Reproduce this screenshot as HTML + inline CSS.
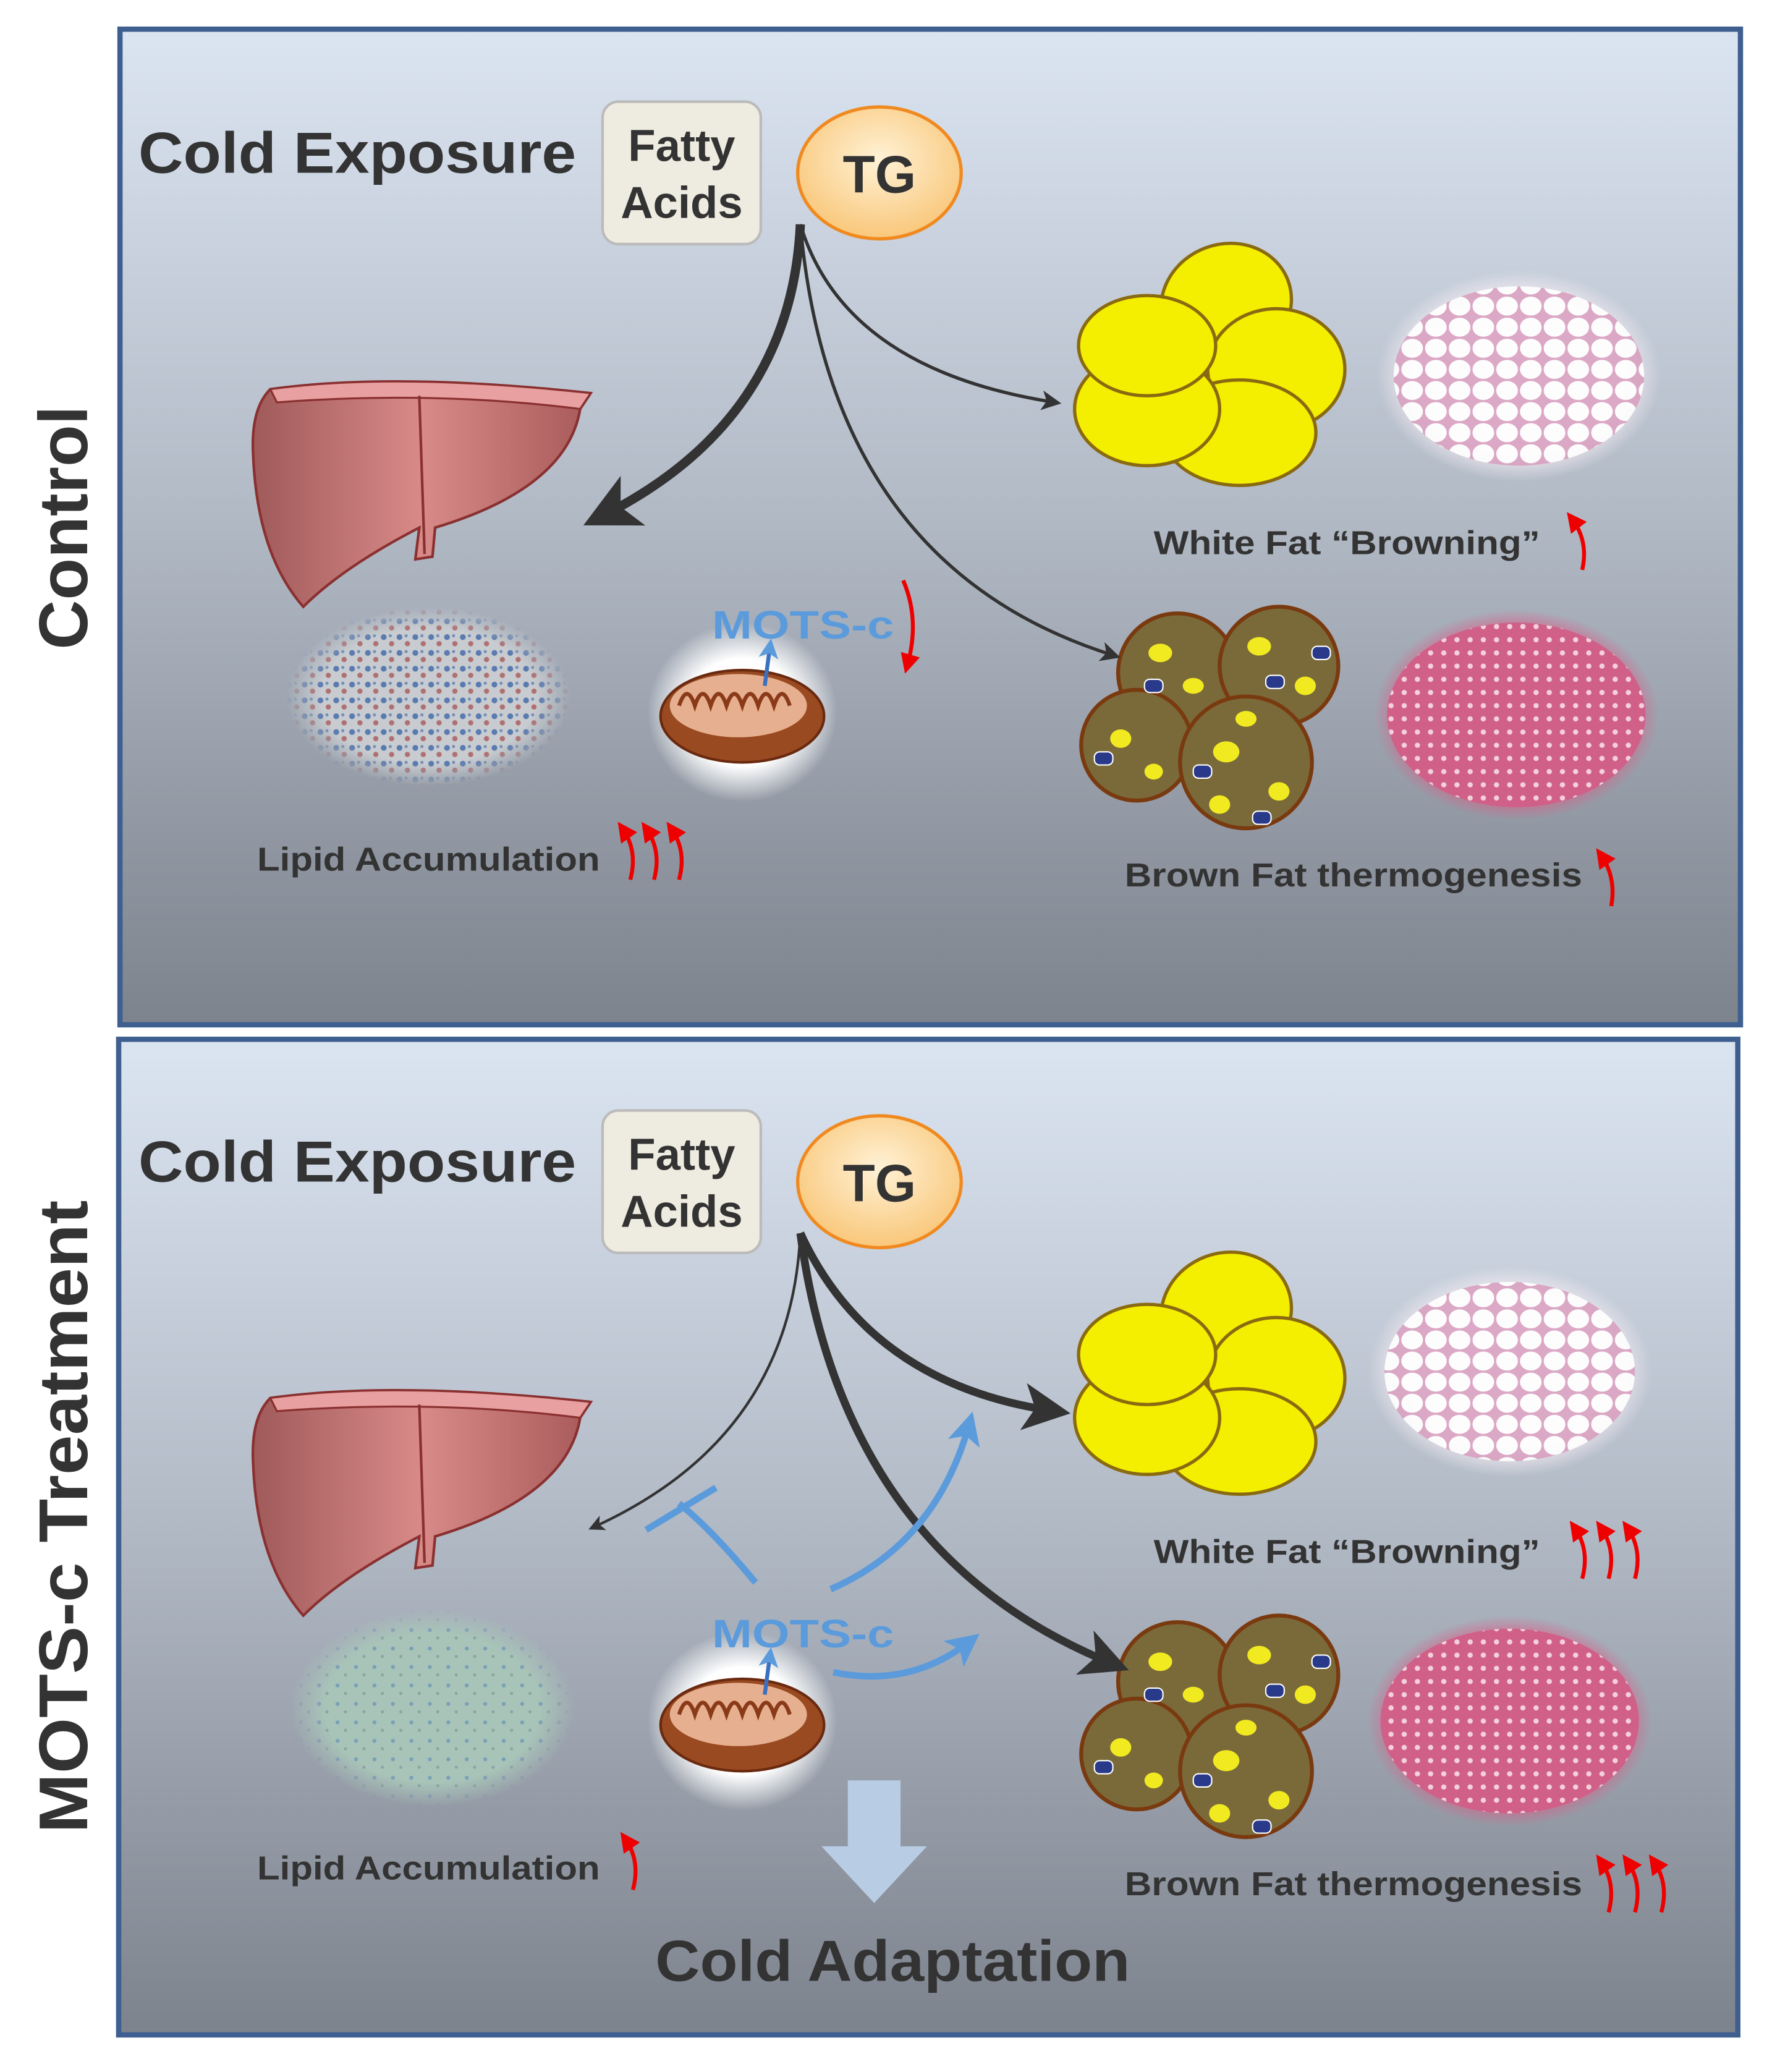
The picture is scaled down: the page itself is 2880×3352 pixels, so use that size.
<!DOCTYPE html>
<html><head><meta charset="utf-8"><style>html,body{margin:0;padding:0;background:#fff}svg{display:block}</style></head><body>
<svg width="2880" height="3352" viewBox="0 0 1350 1571" xmlns="http://www.w3.org/2000/svg" font-family="Liberation Sans, sans-serif">
<defs>
<linearGradient id="bg" x1="0" y1="0" x2="0" y2="1"><stop offset="0" stop-color="#dbe5f1"/><stop offset="0.5" stop-color="#b0b8c4"/><stop offset="1" stop-color="#7d838d"/></linearGradient>
<radialGradient id="tg" cx="0.5" cy="0.4" r="0.6"><stop offset="0" stop-color="#fff2d6"/><stop offset="1" stop-color="#f9c77a"/></radialGradient>
<linearGradient id="liv" x1="0" y1="0" x2="1" y2="0"><stop offset="0" stop-color="#a05a5a"/><stop offset="0.5" stop-color="#d88a88"/><stop offset="1" stop-color="#a85a5a"/></linearGradient>
<radialGradient id="wf" cx="0.5" cy="0.5" r="0.5"><stop offset="0.7" stop-color="#f8eef4"/><stop offset="1" stop-color="#f8eef4" stop-opacity="0"/></radialGradient>
<radialGradient id="bf" cx="0.5" cy="0.5" r="0.5"><stop offset="0.75" stop-color="#d8608a"/><stop offset="1" stop-color="#d8608a" stop-opacity="0"/></radialGradient>
<radialGradient id="mw" cx="0.5" cy="0.5" r="0.5"><stop offset="0.6" stop-color="#fff"/><stop offset="1" stop-color="#fff" stop-opacity="0"/></radialGradient>
<radialGradient id="fade" cx="0.5" cy="0.5" r="0.5"><stop offset="0.75" stop-color="#fff"/><stop offset="1" stop-color="#000"/></radialGradient>
<mask id="fm" maskContentUnits="objectBoundingBox"><rect width="1" height="1" fill="url(#fade)"/></mask>
<pattern id="cells" width="18" height="16" patternUnits="userSpaceOnUse"><rect width="18" height="16" fill="#d8a0c0"/><ellipse cx="9" cy="8" rx="8.2" ry="7.2" fill="#fff"/></pattern>
<pattern id="bcells" width="10" height="10" patternUnits="userSpaceOnUse"><rect width="10" height="10" fill="#d06088"/><circle cx="5" cy="5" r="2" fill="#f4d0dc"/></pattern>
<pattern id="lp1" width="12" height="12" patternUnits="userSpaceOnUse"><rect width="12" height="12" fill="#c8ccd0"/><circle cx="3" cy="3" r="2.2" fill="#5a7ab0"/><circle cx="9" cy="8" r="2" fill="#b07070"/><circle cx="8" cy="2" r="1.2" fill="#7090b8"/></pattern>
<pattern id="lp2" width="14" height="14" patternUnits="userSpaceOnUse"><rect width="14" height="14" fill="#a8c4b8"/><circle cx="4" cy="4" r="1.5" fill="#7aa0b8"/><circle cx="10" cy="10" r="1.2" fill="#8aa4a0"/></pattern>
<marker id="ah" markerWidth="6" markerHeight="6" refX="4" refY="3" orient="auto"><path d="M0,0 L6,3 L0,6 L1.5,3z" fill="#333"/></marker>
<marker id="ahb" markerWidth="5" markerHeight="5" refX="3" refY="2.5" orient="auto"><path d="M0,0 L5,2.5 L0,5 L1.2,2.5z" fill="#5b9bdc"/></marker>
<marker id="ahr" markerWidth="5" markerHeight="5" refX="3" refY="2.5" orient="auto"><path d="M0,0 L5,2.5 L0,5z" fill="#e00"/></marker>
<g id="common">
<text x="105" y="131" font-size="44" font-weight="bold" fill="#333" textLength="332" lengthAdjust="spacingAndGlyphs">Cold Exposure</text>
<rect x="457" y="77" width="120" height="108" rx="12" fill="#eeebe0" stroke="#bbb" stroke-width="2"/>
<text x="517" y="122" font-size="34" font-weight="bold" fill="#333" text-anchor="middle">Fatty</text>
<text x="517" y="165" font-size="34" font-weight="bold" fill="#333" text-anchor="middle">Acids</text>
<ellipse cx="667" cy="131" rx="62" ry="50" fill="url(#tg)" stroke="#f08a20" stroke-width="2.5"/>
<text x="667" y="146" font-size="40" font-weight="bold" fill="#333" text-anchor="middle">TG</text>
<path d="M205,295 Q300,282 448,298 L440,310 Q430,370 330,400 L328,422 L315,424 L318,400 Q260,430 230,460 Q195,420 192,345 Q190,310 205,295z" fill="url(#liv)" stroke="#8a3030" stroke-width="2"/>
<path d="M205,295 Q300,282 448,298 L440,310 Q330,296 210,305z" fill="#e8a0a0" stroke="#8a3030" stroke-width="1.5"/>
<path d="M318,300 L322,420" stroke="#8a3030" stroke-width="2" fill="none"/>
<ellipse cx="563" cy="540" rx="72" ry="68" fill="url(#mw)"/>
<ellipse cx="563" cy="543" rx="62" ry="35" fill="#9a4a20" stroke="#6a2a10" stroke-width="2"/>
<ellipse cx="560" cy="535" rx="52" ry="24" fill="#e6b090"/>
<path d="M515,535 q6,-18 12,0 q6,-18 12,0 q6,-18 12,0 q6,-18 12,0 q6,-18 12,0 q6,-18 12,0 q6,-18 12,0" fill="none" stroke="#8a3a18" stroke-width="3"/>
<text x="540" y="484" font-size="30" font-weight="bold" fill="#5b9bdc" textLength="138" lengthAdjust="spacingAndGlyphs">MOTS-c</text>
<g fill="#f4ee00" stroke="#8a6a10" stroke-width="2.5">
<ellipse cx="930" cy="230" rx="50" ry="45" transform="rotate(-20 930 230)"/>
<ellipse cx="968" cy="280" rx="52" ry="46"/>
<ellipse cx="940" cy="328" rx="58" ry="40"/>
<ellipse cx="870" cy="310" rx="55" ry="43"/>
<ellipse cx="870" cy="262" rx="52" ry="38"/>
</g>
<g fill="#7a6a3a" stroke="#7a3a10" stroke-width="3">
<circle cx="893" cy="510" r="45"/><circle cx="970" cy="505" r="45"/><circle cx="862" cy="565" r="42"/><circle cx="945" cy="578" r="50"/>
</g>
<g fill="#f2ea20">
<ellipse cx="880" cy="495" rx="9" ry="7"/><ellipse cx="905" cy="520" rx="8" ry="6"/><ellipse cx="955" cy="490" rx="9" ry="7"/><ellipse cx="990" cy="520" rx="8" ry="7"/><ellipse cx="850" cy="560" rx="8" ry="7"/><ellipse cx="875" cy="585" rx="7" ry="6"/><ellipse cx="930" cy="570" rx="10" ry="8"/><ellipse cx="970" cy="600" rx="8" ry="7"/><ellipse cx="925" cy="610" rx="8" ry="7"/><ellipse cx="945" cy="545" rx="8" ry="6"/>
</g>
<g fill="#2a3a8a" stroke="#fff" stroke-width="1"><rect x="868" y="515" width="14" height="10" rx="4"/><rect x="960" y="512" width="14" height="10" rx="4"/><rect x="995" y="490" width="14" height="10" rx="4"/><rect x="830" y="570" width="14" height="10" rx="4"/><rect x="905" y="580" width="14" height="10" rx="4"/><rect x="950" y="615" width="14" height="10" rx="4"/></g>
<text x="875" y="420" font-size="25" font-weight="bold" fill="#333" textLength="293" lengthAdjust="spacingAndGlyphs">White Fat “Browning”</text>
<text x="853" y="672" font-size="25" font-weight="bold" fill="#333" textLength="347" lengthAdjust="spacingAndGlyphs">Brown Fat thermogenesis</text>
<text x="195" y="660" font-size="25" font-weight="bold" fill="#333" textLength="260" lengthAdjust="spacingAndGlyphs">Lipid Accumulation</text>
</g>
</defs>
<rect x="91" y="22" width="1229" height="755" fill="url(#bg)" stroke="#3e5f8f" stroke-width="4"/>
<rect x="90" y="788" width="1228" height="755" fill="url(#bg)" stroke="#3e5f8f" stroke-width="4"/>
<text transform="translate(66,400) rotate(-90)" font-size="52" font-weight="bold" fill="#333" text-anchor="middle">Control</text>
<text transform="translate(66,1150) rotate(-90)" font-size="52" font-weight="bold" fill="#333" text-anchor="middle" textLength="480" lengthAdjust="spacingAndGlyphs">MOTS-c Treatment</text>
<use href="#common"/>
<use href="#common" transform="translate(0,765)"/>
<ellipse cx="1152" cy="285" rx="108" ry="80" fill="url(#wf)"/>
<ellipse cx="1152" cy="285" rx="95" ry="68" fill="url(#cells)" opacity="0.9"/>
<ellipse cx="1150" cy="542" rx="108" ry="80" fill="url(#bf)"/>
<ellipse cx="1150" cy="542" rx="98" ry="70" fill="url(#bcells)"/>
<ellipse cx="325" cy="528" rx="108" ry="68" fill="url(#lp1)" mask="url(#fm)"/>
<ellipse cx="1145" cy="1040" rx="108" ry="80" fill="url(#wf)"/>
<ellipse cx="1145" cy="1040" rx="95" ry="68" fill="url(#cells)" opacity="0.9"/>
<ellipse cx="1145" cy="1305" rx="108" ry="80" fill="url(#bf)"/>
<ellipse cx="1145" cy="1305" rx="98" ry="70" fill="url(#bcells)"/>
<ellipse cx="328" cy="1295" rx="108" ry="75" fill="url(#lp2)" mask="url(#fm)"/>
<g fill="none" stroke="#333">
<path d="M607,170 Q600,320 455,392" stroke-width="7" marker-end="url(#ah)"/>
<path d="M607,170 Q640,280 800,305" stroke-width="2.5" marker-end="url(#ah)" />
<path d="M607,170 Q630,430 845,497" stroke-width="2.5" marker-end="url(#ah)"/>
</g>
<path d="M580,520 L584,490" stroke="#3a70c0" stroke-width="3" marker-end="url(#ahb)"/>
<g fill="none" stroke="#333">
<path d="M607,935 Q600,1090 450,1158" stroke-width="2" marker-end="url(#ah)"/>
<path d="M607,935 Q660,1050 800,1070" stroke-width="6" marker-end="url(#ah)"/>
<path d="M607,935 Q640,1180 845,1262" stroke-width="6" marker-end="url(#ah)"/>
</g>
<path d="M580,1285 L584,1255" stroke="#3a70c0" stroke-width="3" marker-end="url(#ahb)"/>
<g fill="none" stroke="#5b9bdc" stroke-width="5">
<path d="M573,1200 Q540,1160 515,1140"/>
<path d="M490,1160 L543,1128"/>
<path d="M630,1205 Q710,1170 735,1080" marker-end="url(#ahb)"/>
<path d="M632,1268 Q690,1280 735,1245" marker-end="url(#ahb)"/>
</g>
<path d="M643,1350 L683,1350 L683,1400 L703,1400 L663,1443 L623,1400 L643,1400z" fill="#b8cce4"/>
<text x="677" y="1502" font-size="44" font-weight="bold" fill="#333" text-anchor="middle" textLength="360" lengthAdjust="spacingAndGlyphs">Cold Adaptation</text>
<g fill="none" stroke="#e00" stroke-width="3">
<path d="M1200,432 Q1205,410 1192,393" marker-end="url(#ahr)"/>
<path d="M1222,687 Q1226,665 1214,648" marker-end="url(#ahr)"/>
<path d="M685,440 Q698,470 688,505" marker-end="url(#ahr)"/>
<path d="M478,667 Q484,645 472,628" marker-end="url(#ahr)"/><path d="M496,667 Q502,645 490,628" marker-end="url(#ahr)"/><path d="M515,667 Q521,645 509,628" marker-end="url(#ahr)"/>
<path d="M1200,1197 Q1206,1175 1194,1158" marker-end="url(#ahr)"/><path d="M1220,1197 Q1226,1175 1214,1158" marker-end="url(#ahr)"/><path d="M1240,1197 Q1246,1175 1234,1158" marker-end="url(#ahr)"/>
<path d="M1220,1450 Q1226,1428 1214,1411" marker-end="url(#ahr)"/><path d="M1240,1450 Q1246,1428 1234,1411" marker-end="url(#ahr)"/><path d="M1260,1450 Q1266,1428 1254,1411" marker-end="url(#ahr)"/>
<path d="M480,1433 Q486,1411 474,1394" marker-end="url(#ahr)"/>
</g>
</svg>
</body></html>
